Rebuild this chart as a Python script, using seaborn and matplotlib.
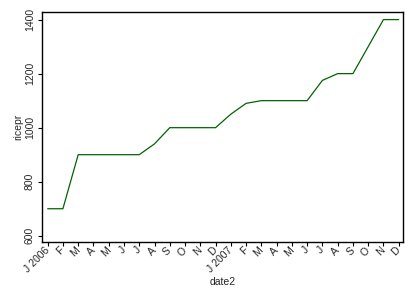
import matplotlib
matplotlib.use("Agg")
import matplotlib.pyplot as plt
import seaborn as sns
import pandas as pd

month_labels = ["J 2006", "F", "M", "A", "M", "J", "J", "A", "S", "O", "N", "D",
                "J 2007", "F", "M", "A", "M", "J", "J", "A", "S", "O", "N", "D"]
month_index = list(range(24))
ricepr = [700, 700, 900, 900, 900, 900, 900, 940, 1000, 1000, 1000, 1000,
          1050, 1090, 1100, 1100, 1100, 1100, 1175, 1200, 1200, 1300, 1400, 1400]
y_ticks = [600, 800, 1000, 1200, 1400]

df = pd.DataFrame({"date2": month_index, "ricepr": ricepr})

sns.set_style("white")
plt.rcParams['font.family'] = ['Liberation Sans', 'DejaVu Sans']

fig = plt.figure(figsize=(4.15, 3.01), dpi=100)
ax = fig.add_axes([41.7/415, 1 - 241.7/301, (402.7-41.7)/415, (241.7-12.3)/301])
sns.lineplot(data=df, x="date2", y="ricepr", ax=ax, color="#006400", linewidth=0.9)

ax.set_xlim(-0.39, 23.26)
ax.set_ylim(578, 1427)
ax.set_yticks(y_ticks)
ax.set_yticklabels([str(v) for v in y_ticks], rotation=90, va="center", fontsize=7.5)
ax.set_xticks(month_index)
ax.set_xticklabels(month_labels, rotation=45, ha="right", va="center",
                   rotation_mode="anchor", fontsize=7.5)
ax.tick_params(axis="both", direction="out", length=3, width=0.8, color="black",
               left=True, bottom=True, pad=2)
for s in ax.spines.values():
    s.set_visible(True)
    s.set_color("black")
    s.set_linewidth(1.0)
ax.set_xlabel("date2", fontsize=7.5, labelpad=2)
ax.set_ylabel("ricepr", fontsize=7.5, labelpad=1)
fig.savefig("out.png", dpi=100, facecolor="white")
